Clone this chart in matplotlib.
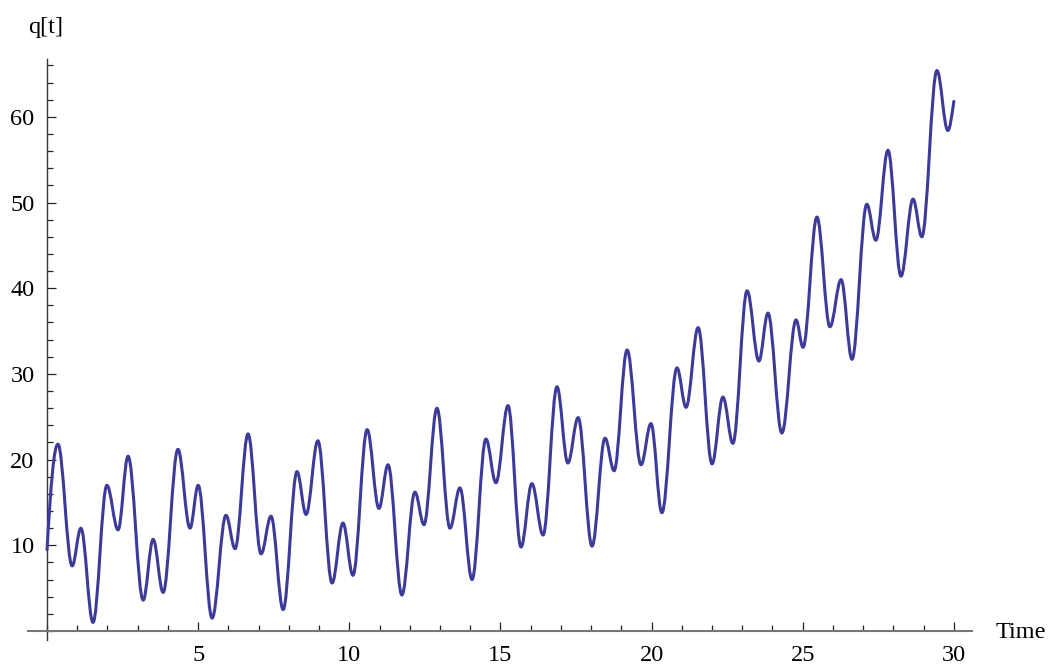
import numpy as np
import matplotlib.pyplot as plt
from matplotlib.path import Path
from matplotlib.patches import PathPatch
from matplotlib.ticker import MultipleLocator

# turning points of q[t] (first and last are the end points)
t_pts = [0.0, 0.36, 0.83, 1.12, 1.52, 1.98, 2.35, 2.68, 3.18, 3.51, 3.84,
         4.33, 4.73, 5.0, 5.46, 5.92, 6.22, 6.65, 7.08, 7.41, 7.81, 8.27,
         8.57, 8.96, 9.43, 9.79, 10.12, 10.59, 10.98, 11.28, 11.74, 12.17,
         12.47, 12.9, 13.33, 13.66, 14.06, 14.52, 14.85, 15.25, 15.68, 16.04,
         16.41, 16.87, 17.23, 17.57, 18.03, 18.46, 18.76, 19.19, 19.65, 19.98,
         20.34, 20.84, 21.14, 21.54, 22.0, 22.36, 22.69, 23.16, 23.55, 23.85,
         24.31, 24.78, 25.01, 25.47, 25.9, 26.27, 26.63, 27.12, 27.42, 27.82,
         28.25, 28.65, 28.94, 29.44, 29.8, 30.0]
q_pts = [9.5, 21.8, 7.6, 12.0, 1.0, 17.0, 11.8, 20.4, 3.6, 10.7, 4.5,
         21.2, 12.0, 17.0, 1.5, 13.5, 9.6, 23.0, 9.0, 13.4, 2.5, 18.6,
         13.6, 22.2, 5.6, 12.6, 6.5, 23.5, 14.3, 19.4, 4.2, 16.2,
         12.4, 26.0, 12.0, 16.7, 6.0, 22.4, 17.3, 26.3, 9.8, 17.2,
         11.2, 28.5, 19.6, 24.9, 9.9, 22.5, 18.7, 32.8, 19.4, 24.2,
         13.8, 30.7, 26.1, 35.4, 19.5, 27.3, 21.9, 39.7, 31.5, 37.1,
         23.1, 36.3, 33.1, 48.3, 35.5, 41.0, 31.7, 49.8, 45.6, 56.1,
         41.4, 50.4, 46.0, 65.4, 58.4, 61.8]

x_major = [5, 10, 15, 20, 25, 30]
y_major = [10, 20, 30, 40, 50, 60]

line_color = '#3c3b99'
serif = 'Liberation Serif'

fig = plt.figure(figsize=(10.52, 6.69), dpi=100)
ax = fig.add_axes([28 / 1052, 29 / 669, 944 / 1052, 580.6 / 669])
ax.set_xlim(-0.63, 30.6)
ax.set_ylim(-1.05, 66.7)

# smooth curve: cubic segments between turning points, flat at each extremum
k = 0.364
verts = [(t_pts[0], q_pts[0])]
codes = [Path.MOVETO]
n = len(t_pts)
for i in range(n - 1):
    t0, q0 = t_pts[i], q_pts[i]
    t1, q1 = t_pts[i + 1], q_pts[i + 1]
    dt = t1 - t0
    if i == 0:
        c1 = (t0 + dt / 3, q0 + (q1 - q0) * 0.6)
    else:
        c1 = (t0 + k * dt, q0)
    if i == n - 2:
        c2 = (t1 - dt / 3, q1 - (q1 - q0) * 0.45)
    else:
        c2 = (t1 - k * dt, q1)
    verts += [c1, c2, (t1, q1)]
    codes += [Path.CURVE4] * 3

curve = PathPatch(Path(verts, codes), facecolor='none', edgecolor=line_color,
                  lw=2.2, capstyle='round', joinstyle='round', zorder=3)
ax.add_patch(curve)

# Mathematica-like axes through the origin
for side in ['top', 'right']:
    ax.spines[side].set_visible(False)
for side in ['left', 'bottom']:
    ax.spines[side].set_position(('data', 0))
ax.spines['bottom'].set_color('#777777')
ax.spines['bottom'].set_linewidth(1.5)
ax.spines['left'].set_color('#333333')
ax.spines['left'].set_linewidth(1.0)

ax.set_xticks(x_major)
ax.set_yticks(y_major)
ax.xaxis.set_minor_locator(MultipleLocator(1))
ax.yaxis.set_minor_locator(MultipleLocator(2))
ax.tick_params(which='both', direction='in', color='#222222', width=0.9)
ax.tick_params(which='major', length=6.5)
ax.tick_params(which='minor', length=4.3)
ax.tick_params(axis='x', which='major', pad=10)
ax.tick_params(axis='y', which='major', pad=9)

for lab in ax.get_xticklabels() + ax.get_yticklabels():
    lab.set_fontfamily(serif)
    lab.set_fontsize(17.5)

fig.text(46 / 1052, 1 - 28 / 669, 'q[t]', family=serif, fontsize=17.5,
         ha='center', va='center')
fig.text(1021 / 1052, 1 - 632 / 669, 'Time', family=serif, fontsize=17.5,
         ha='center', va='center')

fig.savefig('out.png', dpi=100)
